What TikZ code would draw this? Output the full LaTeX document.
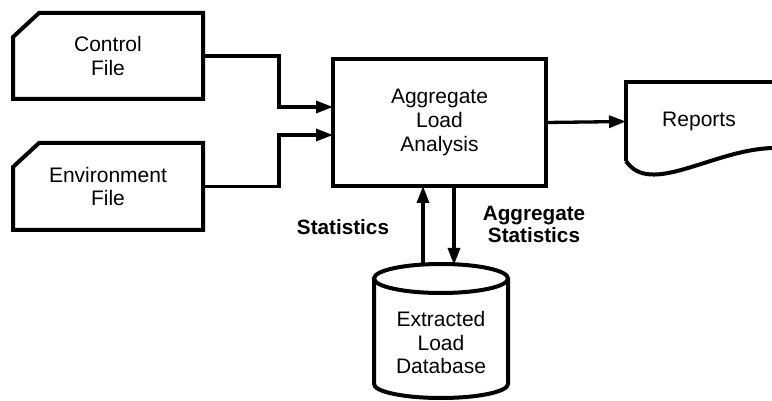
\documentclass[tikz,border=0pt]{standalone}
\usepackage{fontspec}
\setmainfont{Liberation Sans}
\usetikzlibrary{arrows.meta}
\begin{document}
\begin{tikzpicture}[x=1pt,y=-1pt,
  shapeline/.style={line width=4pt, line join=miter},
  conn/.style={line width=3.3pt},
  arr/.style={conn, -{Triangle[length=17pt,width=12pt]}},
  txt/.style={align=center, font=\fontsize{21}{23.8}\selectfont},
  lbl/.style={align=center, font=\fontsize{20.7}{22}\selectfont\bfseries},
  frame/.style={draw=none, inner sep=0pt, outer sep=0pt, rectangle}]
\useasboundingbox (0,0) rectangle (772,401);

% Control File (card)
\node[frame, minimum width=190pt, minimum height=86pt, txt] (ctrl) at (108,56) {Control\\File};
\draw[shapeline] ([yshift=-24pt]ctrl.north west) -- ([xshift=26pt]ctrl.north west) -- (ctrl.north east) -- (ctrl.south east) -- (ctrl.south west) -- cycle;

% Environment File (card)
\node[frame, minimum width=190pt, minimum height=87pt, txt] (env) at (108,186.5) {Environment\\File};
\draw[shapeline] ([yshift=-24pt]env.north west) -- ([xshift=26pt]env.north west) -- (env.north east) -- (env.south east) -- (env.south west) -- cycle;

% Aggregate Load Analysis
\node[frame, draw, shapeline, minimum width=213pt, minimum height=127pt, txt] (agg) at (439.5,122.5) {Aggregate\\Load\\Analysis};

% Reports (document)
\node[frame, minimum width=146pt, minimum height=79pt, txt] (rep) at (699,121.5) {Reports};
\draw[shapeline] (rep.south west) -- (rep.north west) -- (772,82);
\draw[shapeline] (rep.south west) .. controls (650,197) and (712,150) .. (772,148);

% Extracted Load Database (cylinder)
\node[frame, txt] (db) at (441,342.5) {Extracted\\Load\\Database};
\coordinate (dbtop) at (441,264);
\draw[shapeline] (441,278.5) ellipse [x radius=67pt, y radius=14.5pt];
\draw[shapeline] (374,278.5) -- (374,384) arc[start angle=180, end angle=360, x radius=67pt, y radius=14pt] -- (508,278.5);

% Connectors
\draw[arr] (ctrl.east) -- ++(76,0) |- ([yshift=15.5pt]agg.west);
\draw[arr] (env.east) -- ++(76,0) |- ([yshift=-12.5pt]agg.west);
\draw[arr] (agg.east) -- (rep.west);
\draw[arr] ([xshift=-18pt]dbtop) -- ([xshift=-18pt]dbtop |- agg.south);
\draw[arr] ([xshift=13pt]dbtop |- agg.south) -- ([xshift=13pt,yshift=-1pt]dbtop);

% Labels
\node[lbl] (stat) at (343,227) {Statistics};
\node[lbl] (aggstat) at (534,224) {Aggregate\\Statistics};
\end{tikzpicture}
\end{document}
